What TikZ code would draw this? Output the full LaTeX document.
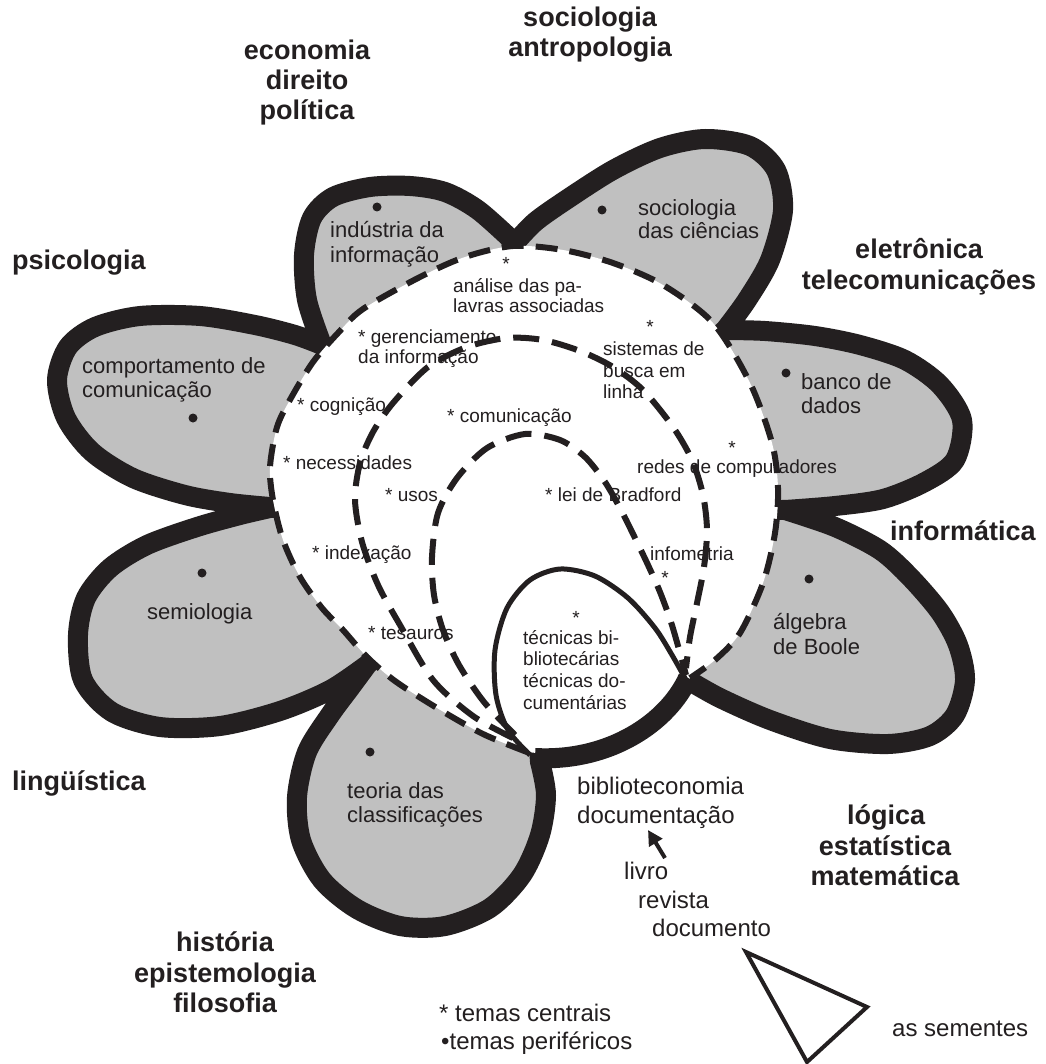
\documentclass[tikz,border=0pt]{standalone}
\usepackage{fontspec}
\setmainfont{Liberation Sans}
\usetikzlibrary{arrows.meta}
\definecolor{petalgray}{RGB}{192,192,192}
\definecolor{ink}{RGB}{35,31,32}
\tikzset{
  big/.style={font=\fontsize{27}{30}\selectfont\bfseries, text=ink, anchor=base, inner sep=0pt},
  pet/.style={font=\fontsize{22}{24}\selectfont, text=ink, anchor=base west, inner sep=0pt},
  cen/.style={font=\fontsize{19}{21}\selectfont, text=ink, anchor=base west, inner sep=0pt},
  star/.style={font=\fontsize{19}{21}\selectfont, text=ink, anchor=base, inner sep=0pt},
  low/.style={font=\fontsize{24}{27}\selectfont, text=ink, anchor=base west, inner sep=0pt},
  seed/.style={circle, fill=ink, inner sep=0pt, minimum size=9pt},
  petalline/.style={fill=petalgray, draw=ink, line width=20pt, line join=round},
  dashline/.style={draw=ink, line width=6pt, dash pattern=on 22pt off 12pt},
  arcline/.style={draw=ink, line width=6pt, dash pattern=on 26pt off 13pt},
}
\begin{document}
\begin{tikzpicture}[x=1pt,y=-1pt]
\useasboundingbox (0,0) rectangle (1045,1064);
\fill[white] (0,0) rectangle (1045,1064);
\coordinate (cen) at (522,500);
% petals: all fills first, then all strokes (single path)
\filldraw[petalline]
  plot[smooth] coordinates {(322,345) (307,300) (304,255) (312,218) (333,197) (370,187) (410,186) (445,192) (478,210) (515,243)} -- (cen) -- cycle
  plot[smooth] coordinates {(515,243) (535,222) (566,200) (613,170) (660,148) (705,139) (750,146) (776,170) (783,210) (770,260) (747,300) (725,330)} -- (cen) -- cycle
  plot[smooth] coordinates {(725,330) (765,331) (815,336) (860,345) (905,360) (940,385) (962,420) (955,460) (925,482) (883,499) (835,506) (785,510)} -- (cen) -- cycle
  plot[smooth] coordinates {(785,510) (835,527) (880,550) (910,577) (940,612) (958,645) (965,680) (955,715) (930,736) (888,744) (830,739) (770,720) (720,698) (688,680)} -- (cen) -- cycle
  plot[smooth] coordinates {(540,762) (546,795) (540,835) (522,875) (490,908) (445,926) (400,926) (357,909) (322,880) (301,840) (297,797) (307,752) (330,715) (350,688) (367,665)} -- (cen) -- cycle
  plot[smooth] coordinates {(367,665) (330,690) (280,711) (220,726) (160,727) (112,712) (83,680) (78,635) (86,598) (110,568) (147,545) (197,527) (240,515) (270,508)} -- (cen) -- cycle
  plot[smooth] coordinates {(270,507) (230,503) (185,495) (133,478) (92,452) (66,418) (57,380) (68,347) (95,327) (140,316) (200,316) (255,325) (295,335) (322,345)} -- (cen) -- cycle;
% white centre
\fill[white] plot[smooth] coordinates {(527,752) (483,734) (437,708) (395,681) (367,657) (343,630) (322,608) (300,577) (283,540) (273,500) (270,467) (277,427) (291,398) (313,362) (338,333) (363,309) (420,277) (465,257) (513,246) (563,250) (613,263) (663,285) (713,323) (750,383) (772,443) (778,488) (775,533) (763,583) (740,633) (715,660) (690,678)}
  .. controls (668,722) and (610,762) .. (527,752) -- cycle;
% dashed outer boundary
\draw[dashline] plot[smooth] coordinates {(527,752) (483,734) (437,708) (395,681) (367,657) (343,630) (322,608) (300,577) (283,540) (273,500) (270,467) (277,427) (291,398) (313,362) (338,333) (363,309) (420,277) (465,257) (513,246) (563,250) (613,263) (663,285) (713,323) (750,383) (772,443) (778,488) (775,533) (763,583) (740,633) (715,660) (690,678)};
% inner dashed arcs
\draw[arcline] plot[smooth] coordinates {(513,738) (473,716) (433,680) (400,625) (378,585) (362,542) (355,500) (360,463) (373,432) (393,403) (428,367) (467,347) (507,338) (543,340) (580,351) (613,367) (643,390) (673,427) (692,460) (703,495) (707,530) (704,567) (697,603) (690,637) (686,668)};
\draw[arcline] plot[smooth] coordinates {(515,735) (484,702) (459,665) (443,630) (434,595) (432,557) (438,513) (457,478) (487,448) (525,434) (560,440) (585,457) (605,482) (621,510) (635,538) (648,565) (660,592) (671,622) (680,653) (686,675)};
% loop
\draw[ink, line width=5pt] plot[smooth] coordinates {(530,755) (508,730) (496,695) (495,650) (507,608) (530,580) (560,569) (595,576) (628,598) (655,628) (672,655) (686,680)};
\draw[ink, line width=20pt] (688,678) .. controls (668,722) and (610,762) .. (535,758);
% outer labels
\node[big] (eco) at (307,60) {economia};
\node[big] (dir) at (307,90) {direito};
\node[big] (pol) at (307,120) {política};
\node[big] (soc) at (590,27) {sociologia};
\node[big] (ant) at (590,57) {antropologia};
\node[big, anchor=base west] (psi) at (12,270) {psicologia};
\node[big] (ele) at (919,259) {eletrônica};
\node[big] (tel) at (919,289) {telecomunicações};
\node[big, anchor=base west] (inf) at (890,540) {informática};
\node[big, anchor=base west] (lin) at (12,790) {lingüística};
\node[big] (log) at (886,824) {lógica};
\node[big] (est) at (885,855) {estatística};
\node[big] (mat) at (885,885) {matemática};
\node[big] (his) at (225,951) {história};
\node[big] (epi) at (225,982) {epistemologia};
\node[big] (fil) at (225,1012) {filosofia};
% petal texts
\node[pet] (ind1) at (330,238) {indústria da};
\node[pet] (ind2) at (330,263) {informação};
\node[pet] (sdc1) at (638,216) {sociologia};
\node[pet] (sdc2) at (638,239) {das ciências};
\node[pet] (cmp1) at (82,373) {comportamento de};
\node[pet] (cmp2) at (82,397) {comunicação};
\node[pet] (bd1) at (801,389) {banco de};
\node[pet] (bd2) at (801,413) {dados};
\node[pet] (alg1) at (773,629) {álgebra};
\node[pet] (alg2) at (773,654) {de Boole};
\node[pet] (sem) at (147,619) {semiologia};
\node[pet] (teo1) at (347,798) {teoria das};
\node[pet] (teo2) at (347,822) {classificações};
% seeds (dots)
\node[seed] (d1) at (377,207) {};
\node[seed] (d2) at (602,210) {};
\node[seed] (d3) at (193,418) {};
\node[seed] (d4) at (786,373) {};
\node[seed] (d5) at (809,579) {};
\node[seed] (d6) at (202,573) {};
\node[seed] (d7) at (370,752) {};
% centre texts
\node[star] (s1) at (506,271) {*};
\node[cen] (ana1) at (453,293) {análise das pa-};
\node[cen] (ana2) at (453,312) {lavras associadas};
\node[star] (s2) at (650,333) {*};
\node[cen] (sis1) at (603,355) {sistemas de};
\node[cen] (sis2) at (603,377) {busca em};
\node[cen] (sis3) at (603,398) {linha};
\node[cen] (ger1) at (358,343) {* gerenciamento};
\node[cen] (ger2) at (358,363) {da informação};
\node[cen] (cog) at (297,411) {* cognição};
\node[cen] (com) at (447,422) {* comunicação};
\node[cen] (nec) at (283,469) {* necessidades};
\node[cen] (uso) at (385,501) {* usos};
\node[cen] (lei) at (545,501) {* lei de Bradford};
\node[star] (s3) at (732,454) {*};
\node[cen] (red) at (637,473) {redes de computadores};
\node[cen] (idx) at (312,559) {* indexação};
\node[cen] (ifm) at (650,560) {infometria};
\node[star] (s4) at (665,584) {*};
\node[cen] (tes) at (368,639) {* tesauros};
\node[star] (s5) at (576,624) {*};
\node[cen] (tec1) at (523,644) {técnicas bi-};
\node[cen] (tec2) at (523,665) {bliotecárias};
\node[cen] (tec3) at (523,687) {técnicas do-};
\node[cen] (tec4) at (523,709) {cumentárias};
% lower texts
\node[low] (bib) at (577,794) {biblioteconomia};
\node[low] (doc) at (577,823) {documentação};
\node[low] (liv) at (624,879) {livro};
\node[low] (rev) at (638,908) {revista};
\node[low] (dcm) at (652,936) {documento};
\coordinate (arrtail) at (665,858);
\coordinate (arrtip) at (648,830);
\draw[ink, line width=4pt, -{Triangle[length=15pt,width=15pt]}] (arrtail) -- (arrtip);
% seed triangle
\coordinate (ta) at (746,952);
\coordinate (tb) at (867,1007);
\coordinate (tc) at (807,1062);
\draw[ink, line width=4pt, line join=miter] (ta) -- (tb) -- (tc) -- cycle;
\node[low] (sem2) at (892,1036) {as sementes};
\node[low] (leg1) at (439,1021) {* temas centrais};
\node[low] (leg2) at (441,1049) {•temas periféricos};
\end{tikzpicture}
\end{document}
